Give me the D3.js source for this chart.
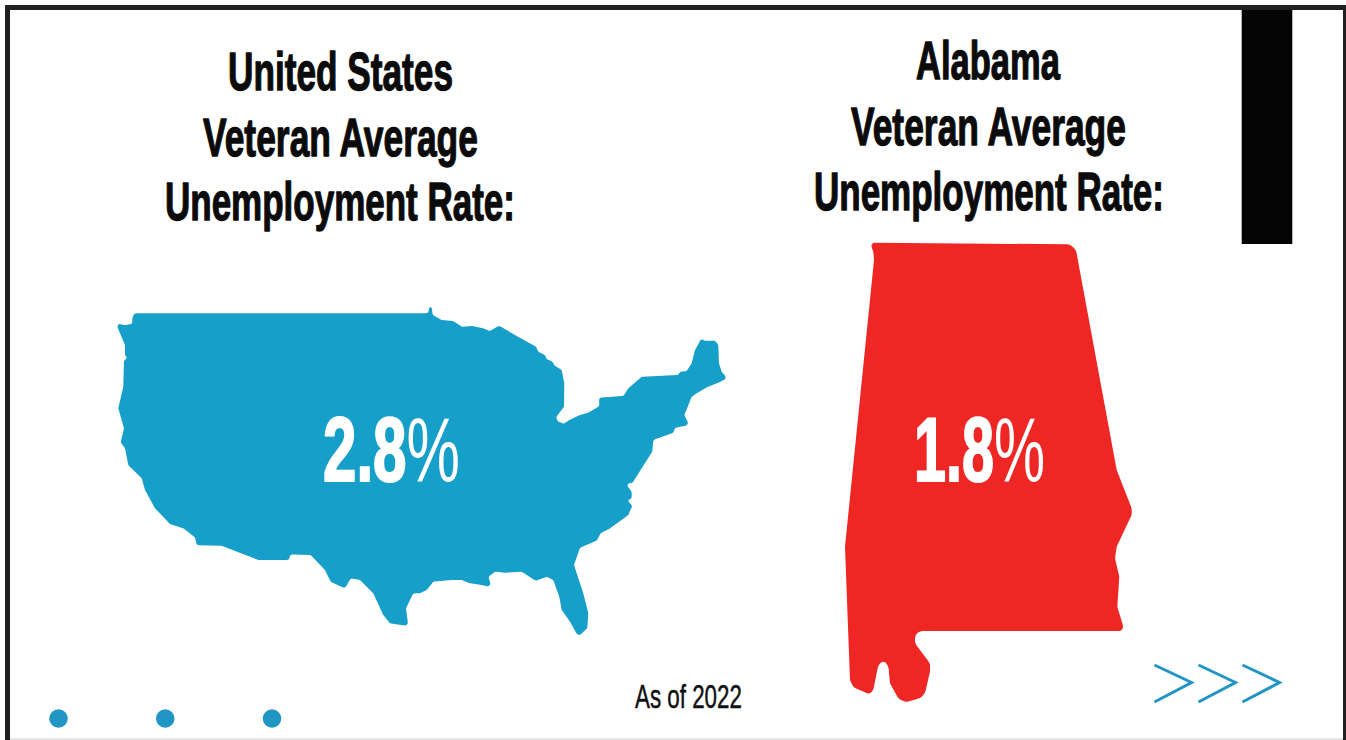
<!DOCTYPE html>
<html>
<head>
<meta charset="utf-8">
<script src="https://cdn.jsdelivr.net/npm/d3@7/dist/d3.min.js"></script>
<style>
html,body{margin:0;padding:0;background:#fff;overflow:hidden}
svg{display:block}
text{font-family:"Liberation Sans Narrow","Liberation Sans",sans-serif}
</style>
</head>
<body>
<svg id="chart" width="1346" height="740"></svg>
<script>
// Veteran unemployment rates, 2022
const regions = ["United States", "Alabama"];
const rates = [2.8, 1.8];
const headingTail = ["Veteran Average", "Unemployment Rate:"];
const footnote = "As of 2022";
const pagerDots = [0, 1, 2];
const chevrons = [0, 1, 2];

// Contiguous US outline in map units, clockwise from the Washington border
const usOutline = [
[34.3,13.3],[328.3,13.3],[329.3,7.3],[331.7,7.3],[332.7,15],[341.7,20],[353.3,21],[361.7,26.7],[371.7,26],[383.3,28.3],[390,31],[399,25.7],[416.7,36],[436,46.7],[438.3,51.7],[445,55],[446.7,59.3],[451.7,61],[455,66],[461.7,70],[464.3,83.3],[464,106.7],[456,117.3],[458.3,121.7],[464,123.7],[468.3,120.7],[480,115],[488.3,112.7],[499.3,106],[499,97.7],[523.3,96],[528.3,88.3],[541.7,76.7],[578.3,75],[580,71.7],[586.7,71],[591.7,63.3],[595,50],[601,39],[605,40.7],[615,40.7],[618.3,45],[619,63.3],[621.7,71.7],[627.3,78.3],[618.3,82.7],[606.7,87.3],[596.7,93.3],[591.7,96.7],[587.7,106.7],[584.3,115],[589.3,125],[575,127.7],[573.3,132.7],[553.3,140],[552.3,151.7],[541.7,168.3],[532.7,182.7],[526,184],[531.7,191.7],[531.7,199],[527.3,200],[532.3,206],[528.3,215],[510,228.3],[500.7,233.3],[496.7,240.7],[480,247.7],[474,265],[483.3,293.3],[488.3,313.3],[487.3,328.3],[478.3,336.7],[470,321.7],[461.7,310],[459.3,296.7],[453.3,280],[446.7,276.7],[435.7,280.7],[421.7,271.7],[405,272.7],[395,271.7],[388.3,276.7],[391.7,287.3],[381.7,285],[370,283.3],[361.7,280],[351.7,280],[333.3,281.7],[326.7,290],[320,293.3],[313.3,293.3],[306,308.3],[308.3,326],[290,323.3],[283.3,315],[273.3,293.3],[260,280],[250.7,278.3],[245,288.3],[230.7,281.7],[225,270],[210.7,255],[190,254.3],[189.3,260],[158.3,260],[121.7,245.7],[96.7,245.3],[95,237.3],[83.3,228.3],[70,224],[55,208.3],[45,190],[41.7,178.3],[28.3,165],[25,148.3],[20.7,142.3],[24,128.3],[18.3,108.3],[23.3,86.7],[24,60],[27.3,58.3],[25,55],[25,45],[20,33.3],[16,23.3],[25,25],[32.3,24],[32.3,18.3]
];

// Alabama outline in map units, clockwise from the north-west corner
const alabamaOutline = [
[30,2.7],[230,4.3],[236,10],[276.7,230],[291.7,268.3],[291.7,275],[276.7,306.7],[275,318.3],[279.3,336.7],[277.3,366.7],[283.3,386.7],[281.7,391],[80,391],[75,395],[75,403.3],[90,423.3],[90,431.7],[85,453.3],[80,458.3],[65,462.3],[58.3,458.3],[50,443.3],[48.3,425],[43.3,420.7],[38.3,425],[33.3,450],[29.3,454.3],[13.3,447.3],[10,440],[5,306.7],[34,20],[33.3,11.7]
];

const svg = d3.select("#chart");
const blue = "#169fc8";
const accent = "#2196c4";
const red = "#ee2624";
const frame = "#231f20";

// Page background, frame bars and the black tab at the upper right
svg.append("rect").attr("width", 1346).attr("height", 740).attr("fill", "#fff");
svg.append("rect").attr("x", 1241.7).attr("y", 9).attr("width", 50.6).attr("height", 235).attr("fill", "#050505");
svg.append("rect").attr("x", 5).attr("y", 5).attr("width", 1341).attr("height", 5).attr("fill", frame);
svg.append("rect").attr("x", 5).attr("y", 5).attr("width", 5).attr("height", 735).attr("fill", frame);
svg.append("rect").attr("x", 1343).attr("y", 5).attr("width", 3).attr("height", 735).attr("fill", frame);
svg.append("rect").attr("x", 10).attr("y", 738).attr("width", 1333).attr("height", 2).attr("fill", "#e6e6e6");

// Map units to page pixels
const usX = d3.scaleLinear().domain([0, 640]).range([100, 740]);
const usY = d3.scaleLinear().domain([0, 345]).range([300, 645]);
const alX = d3.scaleLinear().domain([0, 320]).range([840, 1160]);
const alY = d3.scaleLinear().domain([0, 480]).range([240, 720]);

// Closed polygon with its corners eased by tangent arcs
function roundedOutline(points, radius) {
  const p = d3.path();
  const n = points.length;
  const first = points[0], last = points[n - 1];
  p.moveTo((first[0] + last[0]) / 2, (first[1] + last[1]) / 2);
  points.forEach((v, i) => {
    const a = points[(i + n - 1) % n];
    const b = points[(i + 1) % n];
    const e1 = Math.hypot(a[0] - v[0], a[1] - v[1]);
    const e2 = Math.hypot(b[0] - v[0], b[1] - v[1]);
    const cos = ((a[0] - v[0]) * (b[0] - v[0]) + (a[1] - v[1]) * (b[1] - v[1])) / (e1 * e2);
    const half = Math.acos(Math.max(-1, Math.min(1, cos))) / 2;
    const r = Math.min(radius, Math.min(e1, e2) / 2 * Math.tan(half));
    p.arcTo(v[0], v[1], b[0], b[1], r);
  });
  p.closePath();
  return p.toString();
}

svg.append("path")
  .attr("d", roundedOutline(usOutline.map(d => [usX(d[0]), usY(d[1])]), 3))
  .attr("fill", blue);

svg.append("path")
  .attr("d", roundedOutline(alabamaOutline.map(d => [alX(d[0]), alY(d[1])]), 8))
  .attr("fill", red);

// Squeezes a text element to the wanted width from its left edge
function fitTo(t, left, right, baseline) {
  const w = t.node().getComputedTextLength();
  t.attr("transform", `translate(${left},${baseline}) scale(${(right - left) / w},1)`);
  return t;
}

function heavyLine(str, left, right, baseline, size, weight, fill, thicken) {
  const t = svg.append("text")
    .attr("font-size", size).attr("font-weight", weight).attr("fill", fill)
    .attr("stroke", fill).attr("stroke-width", thicken).attr("stroke-linejoin", "round")
    .text(str);
  return fitTo(t, left, right, baseline);
}

const headingLayout = [
  [[228, 453, 90], [203, 478, 156], [165, 515, 220]],
  [[916, 1060, 79], [851, 1126, 145], [814, 1164, 210]]
];
regions.forEach((name, i) => {
  [name, ...headingTail].forEach((line, j) => {
    const [l, r, b] = headingLayout[i][j];
    heavyLine(line, l, r, b, 54, 700, "#0b0b0b", 1.3);
  });
});

// Rate labels: heavy numerals, lighter percent sign
const rateLayout = [[323, 460, 480.5], [914, 1045, 480.5]];
rates.forEach((v, i) => {
  const [l, r, b] = rateLayout[i];
  const t = svg.append("text").attr("font-size", 91).attr("fill", "#fff");
  t.append("tspan").attr("font-weight", 700).attr("stroke", "#fff").attr("stroke-width", 2.2).text(v.toFixed(1));
  t.append("tspan").attr("font-weight", 400).text("%");
  fitTo(t, l, r, b);
});

heavyLine(footnote, 635, 742, 707.5, 34, 400, "#111", 0.5);

// Pager dots along the bottom edge
const dotX = d3.scalePoint().domain(pagerDots).range([58.5, 272]);
svg.selectAll("circle.dot").data(pagerDots).join("circle")
  .attr("class", "dot")
  .attr("cx", d => dotX(d)).attr("cy", 718.5).attr("r", 9.3).attr("fill", accent);

// Next-page chevrons
const chevX = d3.scalePoint().domain(chevrons).range([1154.5, 1242.5]);
const chevLine = d3.line();
svg.selectAll("path.chev").data(chevrons).join("path")
  .attr("class", "chev")
  .attr("d", d => chevLine([[chevX(d), 665], [chevX(d) + 37, 682.5], [chevX(d), 702]]))
  .attr("fill", "none").attr("stroke", accent).attr("stroke-width", 3);
</script>
</body>
</html>
